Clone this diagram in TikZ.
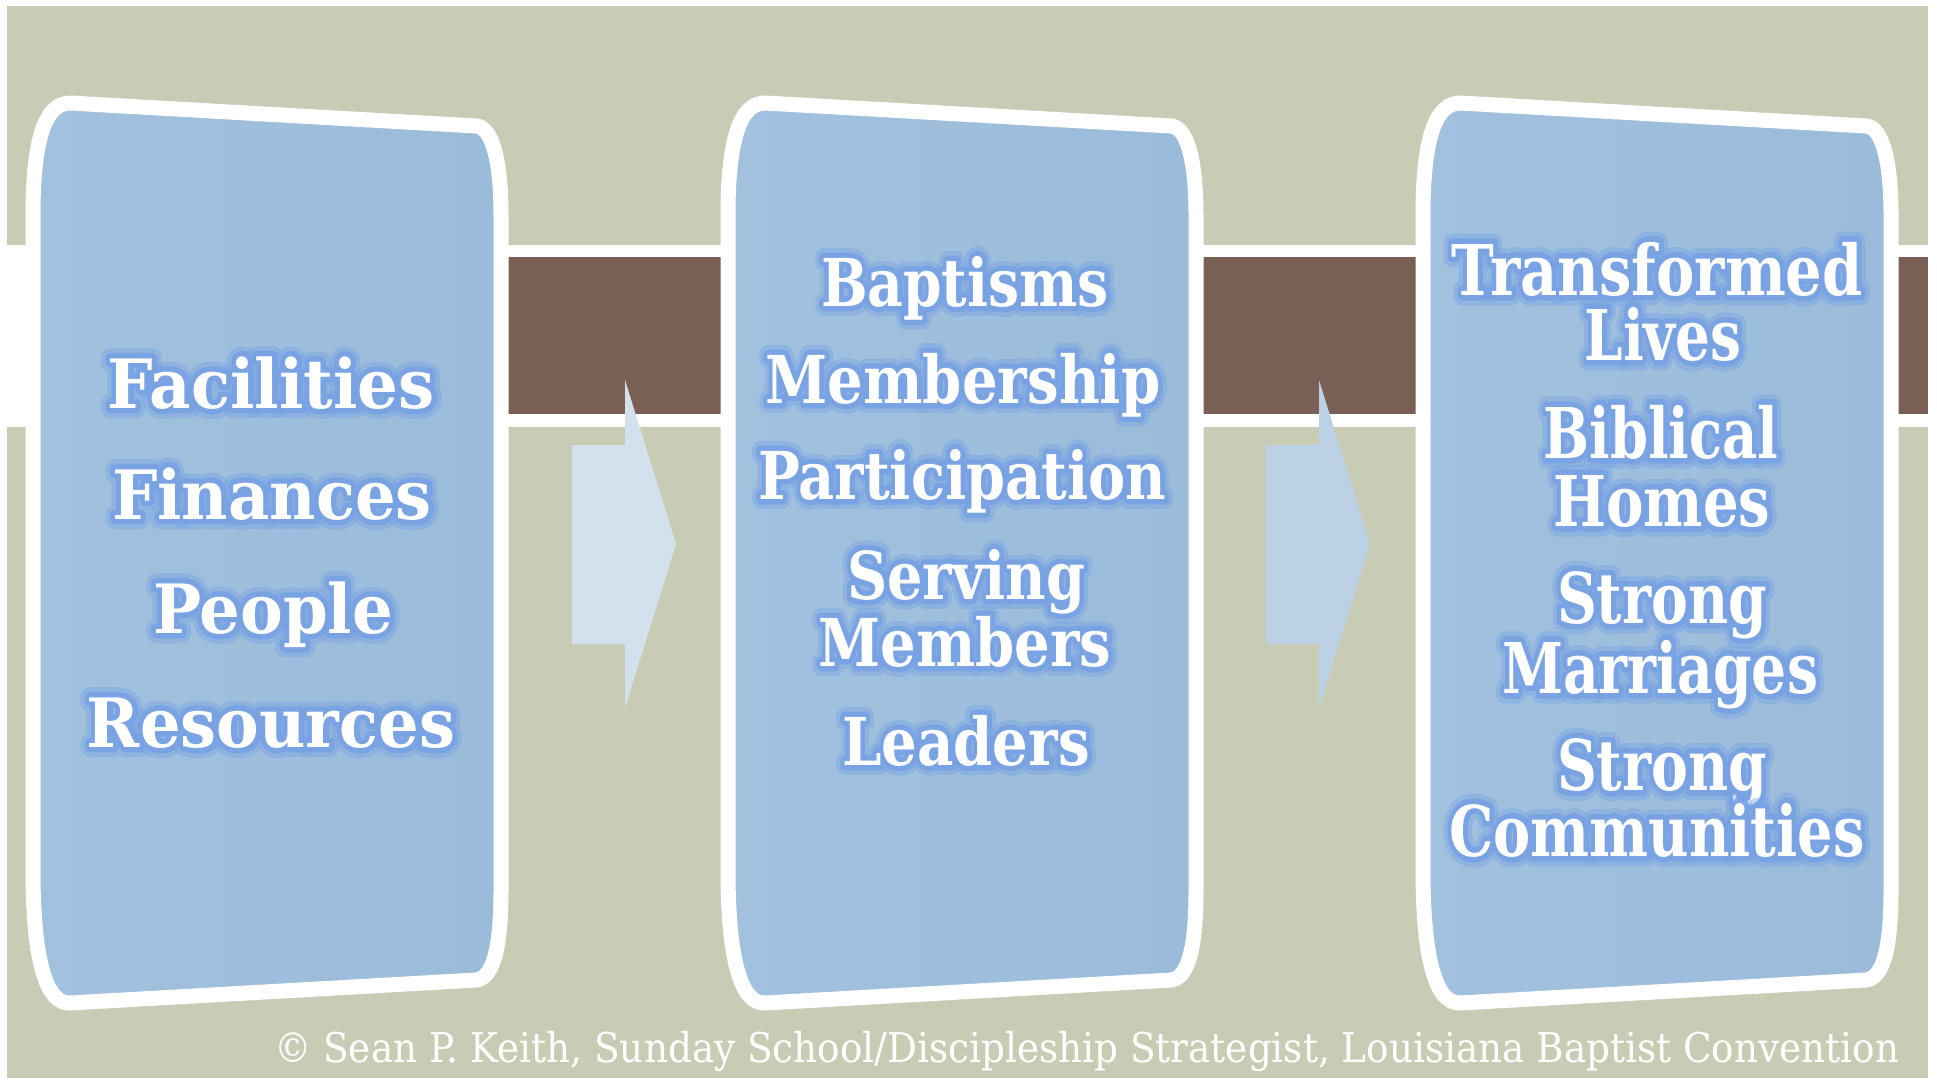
\documentclass[tikz,border=0pt]{standalone}
\usepackage{fontspec}
\usepackage{graphicx}
\newfontfamily\boxfont[UprightFont={* Bold}]{DejaVu Serif}
\newfontfamily\glowfontA[UprightFont={* Bold}, FakeBold=30]{DejaVu Serif}
\newfontfamily\glowfontB[UprightFont={* Bold}, FakeBold=16]{DejaVu Serif}
\newfontfamily\notefont{DejaVu Serif}
\definecolor{tanbg}{HTML}{C9CCB4}
\definecolor{bandbrown}{HTML}{7A5F55}
\definecolor{boxblueL}{HTML}{A1C1DF}
\definecolor{boxblueR}{HTML}{9ABBD9}
\definecolor{glowblue}{HTML}{78A2E4}
\definecolor{arrowA}{HTML}{D2E1EC}
\definecolor{arrowB}{HTML}{BCD1E5}
\tikzset{
  glowouter/.style={text=glowblue, inner sep=0pt, font=\glowfontA, opacity=0.4, text opacity=0.4, line join=round},
  glowinner/.style={text=glowblue, inner sep=0pt, font=\glowfontB, opacity=0.9, text opacity=0.9, line join=round},
  mtxt/.style={text=white, inner sep=0pt, font=\boxfont},
  cardbox/.style={left color=boxblueL, right color=boxblueR, draw=white, line width=15pt, line join=round},
  notetxt/.style={text=white, inner sep=0pt, font=\notefont}
}
\newcommand{\cardpath}{(33,215) .. controls (33,140) and (45,103) .. (70,103) -- (476,126) .. controls (492,127) and (501,160) .. (501,215) -- (501,890) .. controls (501,945) and (494,978) .. (476,980) -- (70,1003) .. controls (46,1004) and (33,960) .. (33,870) -- cycle}
\newcommand{\arrowpath}{(572,445) -- (625,445) -- (625,380) -- (676,544) -- (625,708) -- (625,644) -- (572,644) -- cycle}
\newcommand{\gline}[6]{%
  \node[glowouter, anchor=base] (#1-go) at (#2,#3) {\resizebox{#4pt}{\height}{\fontsize{#5}{#5}\selectfont #6}};
  \node[glowinner, anchor=base] (#1-gi) at (#2,#3) {\resizebox{#4pt}{\height}{\fontsize{#5}{#5}\selectfont #6}};
  \node[mtxt, anchor=base] (#1) at (#2,#3) {\resizebox{#4pt}{\height}{\fontsize{#5}{#5}\selectfont #6}};
}
\begin{document}
\begin{tikzpicture}[x=1pt,y=-1pt]
\useasboundingbox (0,0) rectangle (1937,1080);
\fill[white] (0,0) rectangle (1937,1080);
\fill[tanbg] (7,6) rectangle (1928,1078);
% band
\fill[white] (7,245) rectangle (1928,427);
\fill[bandbrown] (300,257) rectangle (1928,414);
% arrows
\fill[arrowA] \arrowpath;
\begin{scope}[xshift=694pt]
\fill[arrowB] \arrowpath;
\end{scope}
% cards
\path[cardbox] \cardpath;
\begin{scope}[xshift=695pt]
\path[cardbox] \cardpath;
\end{scope}
\begin{scope}[xshift=1390pt]
\path[cardbox] \cardpath;
\end{scope}
% box 1 text
\gline{fac}{271}{408}{327}{68}{Facilities}
\gline{fin}{272}{519}{320}{68}{Finances}
\gline{peo}{273}{633}{240}{68}{People}
\gline{res}{271}{747}{368}{68}{Resources}
% box 2 text
\gline{bap}{965}{306}{288}{66}{Baptisms}
\gline{mem}{963}{403}{395}{66}{Membership}
\gline{par}{962}{499}{408}{66}{Participation}
\gline{ser}{966}{599}{238}{66}{Serving}
\gline{mbs}{965}{666}{293}{66}{Members}
\gline{lea}{966}{765}{248}{66}{Leaders}
% box 3 text
\gline{tra}{1657}{295}{411}{70}{Transformed}
\gline{liv}{1663}{360}{157}{70}{Lives}
\gline{bib}{1661}{458}{235}{70}{Biblical}
\gline{hom}{1662}{526}{217}{70}{Homes}
\gline{stA}{1662}{623}{210}{70}{Strong}
\gline{mar}{1660}{693}{316}{70}{Marriages}
\gline{stB}{1662}{790}{210}{70}{Strong}
\gline{com}{1657}{856}{415}{70}{Communities}
% copyright
\node[notetxt, anchor=base west] (copy) at (274,1062) {\resizebox{1625pt}{\height}{\fontsize{41}{48}\selectfont © Sean P. Keith, Sunday School/Discipleship Strategist, Louisiana Baptist Convention}};
\end{tikzpicture}
\end{document}
